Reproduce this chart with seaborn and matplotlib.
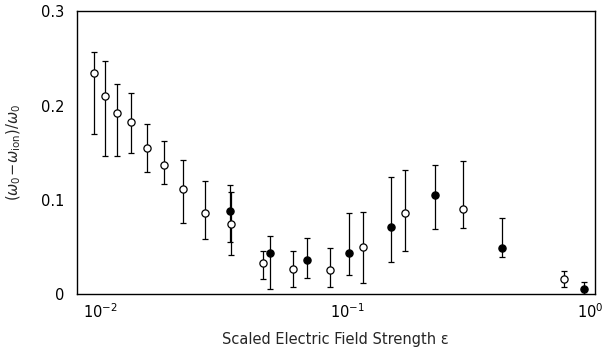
import numpy as np
import pandas as pd
import matplotlib
matplotlib.use("Agg")
import matplotlib.pyplot as plt
from matplotlib.ticker import FixedLocator, NullLocator, FixedFormatter
import seaborn as sns

# Open circles
open_x = [0.00945, 0.0105, 0.01177, 0.0133, 0.01545, 0.0181, 0.0216, 0.0266, 0.0338,
          0.0457, 0.0604, 0.0855, 0.116, 0.171, 0.294, 0.754]
open_y = [0.234, 0.210, 0.192, 0.183, 0.155, 0.137, 0.112, 0.0865, 0.0745,
          0.0333, 0.0266, 0.0255, 0.050, 0.0858, 0.0904, 0.016]
open_hi = [0.257, 0.247, 0.223, 0.213, 0.180, 0.162, 0.142, 0.1205, 0.108,
           0.0457, 0.0454, 0.0493, 0.0869, 0.132, 0.1407, 0.0245]
open_lo = [0.170, 0.146, 0.146, 0.150, 0.129, 0.117, 0.075, 0.0588, 0.041,
           0.0163, 0.0074, 0.0078, 0.0117, 0.046, 0.0705, 0.0074]

# Filled circles
fill_x = [0.0336, 0.0485, 0.0686, 0.102, 0.1507, 0.227, 0.4226, 0.904]
fill_y = [0.0883, 0.0440, 0.0362, 0.044, 0.0713, 0.105, 0.0486, 0.0056]
fill_hi = [0.116, 0.062, 0.060, 0.086, 0.1245, 0.1365, 0.0812, 0.0128]
fill_lo = [0.0553, 0.0053, 0.0167, 0.0199, 0.034, 0.0695, 0.039, 0.0]

x_ticks = [0.01, 0.1, 1.0]
x_ticklabels = [r"$10^{-2}$", r"$10^{-1}$", r"$10^{0}$"]
x_minor = [0.05, 0.5]
y_ticks = [0, 0.1, 0.2, 0.3]
y_ticklabels = ["0", "0.1", "0.2", "0.3"]

sns.set_style("white")
plt.rcParams["font.family"] = ["DejaVu Sans"]
plt.rcParams["mathtext.fontset"] = "dejavusans"

fig = plt.figure(figsize=(6.05, 3.51), dpi=100)
ax = fig.add_axes([0.127, 0.162, 0.856, 0.806])

df_open = pd.DataFrame({"x": open_x, "y": open_y, "lo": open_lo, "hi": open_hi})
df_fill = pd.DataFrame({"x": fill_x, "y": fill_y, "lo": fill_lo, "hi": fill_hi})

for df in (df_open, df_fill):
    ax.errorbar(df["x"], df["y"],
                yerr=[df["y"] - df["lo"], df["hi"] - df["y"]],
                fmt="none", ecolor="black", elinewidth=0.9, capsize=2.3,
                capthick=0.9, zorder=2)

sns.scatterplot(data=df_open, x="x", y="y", ax=ax, marker="o", s=27,
                facecolor="white", edgecolor="black", linewidth=0.9, zorder=3)
sns.scatterplot(data=df_fill, x="x", y="y", ax=ax, marker="o", s=27,
                color="black", edgecolor="black", linewidth=0.9, zorder=3)

ax.set_xscale("log")
ax.set_xlim(0.00807, 1.0)
ax.set_ylim(0, 0.3)

ax.xaxis.set_major_locator(FixedLocator(x_ticks))
ax.xaxis.set_major_formatter(FixedFormatter(x_ticklabels))
ax.xaxis.set_minor_locator(FixedLocator(x_minor))
ax.yaxis.set_major_locator(FixedLocator(y_ticks))
ax.yaxis.set_major_formatter(FixedFormatter(y_ticklabels))
ax.yaxis.set_minor_locator(NullLocator())

ax.tick_params(axis="both", which="both", direction="in", length=5, width=0.9,
               labelsize=10.5, colors="black")
ax.tick_params(axis="x", which="major", pad=6)
ax.tick_params(axis="y", which="major", pad=9)
ax.tick_params(top=False, right=False)

for sp in ax.spines.values():
    sp.set_color("black")
    sp.set_linewidth(1.0)

ax.set_xlabel("Scaled Electric Field Strength ε", fontsize=10.5, labelpad=8)
ax.set_ylabel(r"$(\omega_0\!-\!\omega_{\rm ion})/\omega_0$", fontsize=10.5, labelpad=13)

fig.canvas.draw()
last = ax.get_xticklabels()[-1]
last.set_horizontalalignment("right")
last.set_x(1.0)
from matplotlib.transforms import ScaledTranslation
last.set_transform(last.get_transform() + ScaledTranslation(0.09, 0, fig.dpi_scale_trans))

fig.savefig("out.png", dpi=100)
